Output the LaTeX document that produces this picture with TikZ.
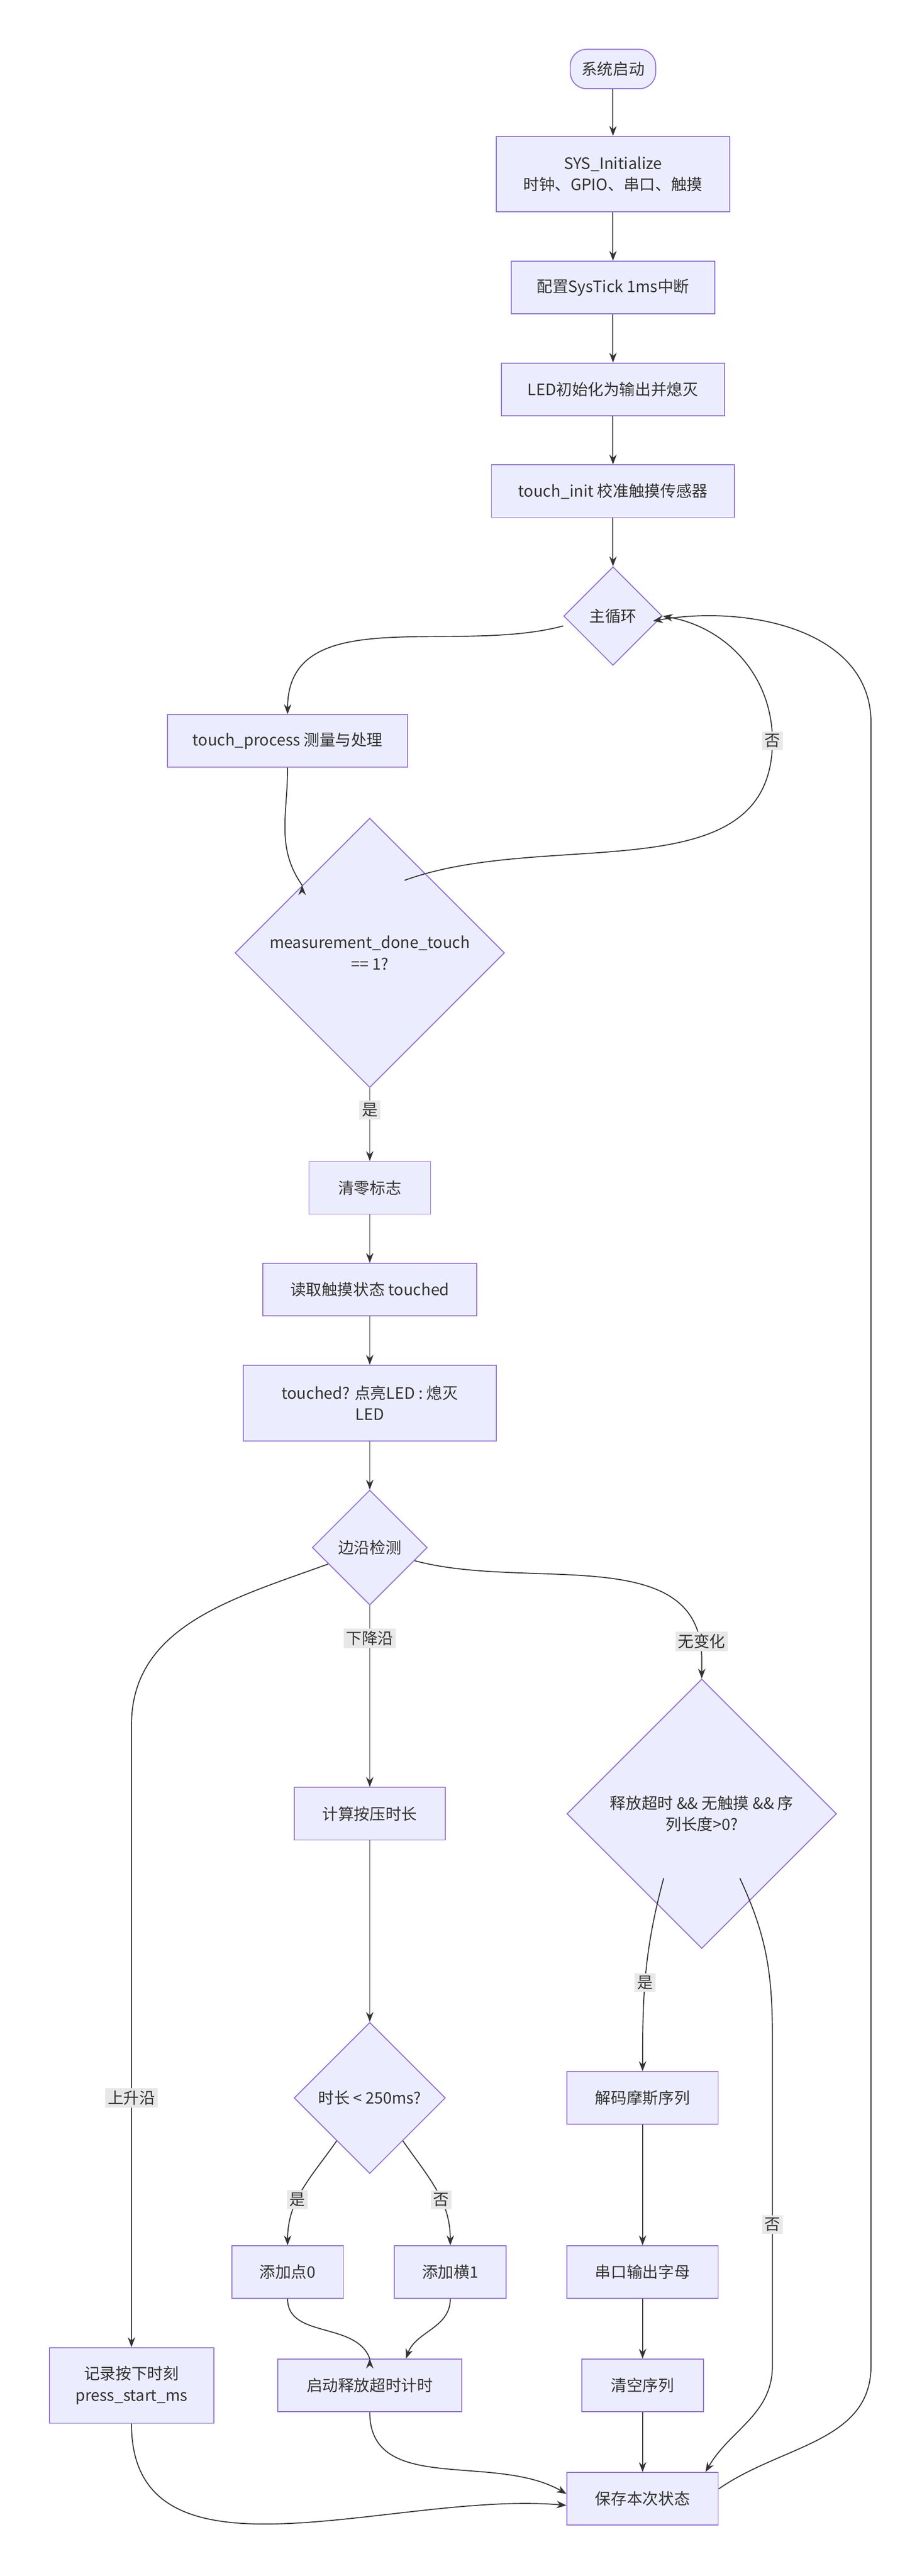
\documentclass[tikz,border=0pt]{standalone}
\usepackage{fontspec}
\setmainfont{Noto Sans CJK SC}
\usetikzlibrary{shapes.geometric,arrows.meta}
\definecolor{nfill}{HTML}{ECECFF}
\definecolor{nline}{HTML}{9370DB}
\definecolor{ink}{HTML}{333333}
\definecolor{lbg}{HTML}{E8E8E8}
\begin{document}
\begin{tikzpicture}[x=1pt,y=-1pt,
  font=\fontsize{9.6}{13}\selectfont, text=ink,
  box/.style={draw=nline,fill=nfill,line width=0.6pt,minimum height=32pt,inner sep=2pt,align=center},
  dia/.style={draw=nline,fill=nfill,line width=0.6pt,diamond,aspect=1,inner sep=0pt,align=center},
  term/.style={draw=nline,fill=nfill,line width=0.6pt,rounded corners=10pt,minimum height=24pt,minimum width=52pt},
  arr/.style={draw=ink,line width=0.6pt,-{Stealth[length=6pt,width=4.5pt]}},
  lab/.style={fill=lbg,inner sep=1.5pt,text=ink}]
\useasboundingbox (0,0) rectangle (561,1568);
\node[term] (start) at (373,42) {系统启动};
\node[box,minimum width=142pt,minimum height=46pt] (sys) at (373,106) {SYS\_Initialize\\时钟、GPIO、串口、触摸};
\node[box,minimum width=124pt] (tick) at (373,175) {配置SysTick 1ms中断};
\node[box,minimum width=136pt] (led) at (373,237) {LED初始化为输出并熄灭};
\node[box,minimum width=148pt] (tinit) at (373,299) {touch\_init 校准触摸传感器};
\node[dia,minimum width=60pt,minimum height=60pt] (loop) at (373,375) {主循环};
\node[box,minimum width=146pt] (tproc) at (175,451) {touch\_process 测量与处理};
\node[dia,minimum width=164pt,minimum height=164pt] (meas) at (225,580) {measurement\_done\_touch\\== 1?};
\node[box,minimum width=74pt] (clear) at (225,723) {清零标志};
\node[box,minimum width=130pt] (read) at (225,785) {读取触摸状态 touched};
\node[box,minimum width=154pt,minimum height=46pt] (tch) at (225,854) {touched? 点亮LED : 熄灭\\LED};
\node[dia,minimum width=70pt,minimum height=70pt] (edge) at (225,942) {边沿检测};
\node[box,minimum width=92pt] (calc) at (225,1104) {计算按压时长};
\node[dia,minimum width=92pt,minimum height=92pt] (dur) at (225,1277) {时长 < 250ms?};
\node[box,minimum width=68pt] (dot) at (175,1383) {添加点0};
\node[box,minimum width=68pt] (dash) at (274,1383) {添加横1};
\node[box,minimum width=112pt] (timer) at (225,1452) {启动释放超时计时};
\node[box,minimum width=100pt,minimum height=46pt] (rec) at (80,1452) {记录按下时刻\\press\_start\_ms};
\node[dia,minimum width=164pt,minimum height=164pt] (rel) at (427,1104) {释放超时 \&\& 无触摸 \&\& 序\\列长度>0?};
\node[box,minimum width=92pt] (dec) at (391,1277) {解码摩斯序列};
\node[box,minimum width=92pt] (ser) at (391,1383) {串口输出字母};
\node[box,minimum width=74pt] (clr) at (391,1452) {清空序列};
\node[box,minimum width=92pt] (save) at (391,1521) {保存本次状态};
\coordinate (ra) at (470,451);
\coordinate (rb) at (80,1050);
\coordinate (rc) at (427,1010);
\coordinate (rd) at (470,1240);
\coordinate (re) at (530,1440);
\coordinate (rf) at (530,440);

\draw[arr] (start) -- (sys);
\draw[arr] (sys) -- (tick);
\draw[arr] (tick) -- (led);
\draw[arr] (led) -- (tinit);
\draw[arr] (tinit) -- (loop);
\draw[arr] (loop.west) ++(0,6) to[out=195,in=90] (tproc.north);
\draw[arr] (tproc.south) to[out=-90,in=125] (meas.north west) ++(0,0);
\draw[arr] (meas.north east) ++(-20,-3) to[out=20,in=-90] (ra) to[out=90,in=-10] (loop.east);
\node[lab] at (ra) {否};
\draw[arr] (meas) -- node[lab,pos=0.3]{是} (clear);
\draw[arr] (clear) -- (read);
\draw[arr] (read) -- (tch);
\draw[arr] (tch) -- (edge);
\draw[arr] (edge.west) ++(10,10) to[out=200,in=90] (rb) -- (rec.north);
\node[lab] at (80,1277) {上升沿};
\draw[arr] (edge) -- node[lab,pos=0.18]{下降沿} (calc);
\draw[arr] (edge.east) ++(-8,8) to[out=-15,in=90] (rc) -- (rel.north);
\node[lab] at (427,999) {无变化};
\draw[arr] (calc) -- (dur);
\draw[arr] (dur.south west) ++(3,3) to[out=-125,in=90] node[lab,pos=0.6]{是} (dot.north);
\draw[arr] (dur.south east) ++(-3,3) to[out=-55,in=90] node[lab,pos=0.6]{否} (dash.north);
\draw[arr] (dot.south) to[out=-90,in=110] (timer.north) ++(0,0);
\draw[arr] (dash.south) to[out=-90,in=70] ([xshift=22pt]timer.north);
\draw[arr] (rel.south west) ++(18,-2) to[out=-105,in=90] node[lab,pos=0.55]{是} (dec.north);
\draw[arr] (rel.south east) ++(-18,-2) to[out=-65,in=90] (rd) -- node[lab,pos=0.57]{否} (470,1440) to[out=-90,in=60] ([xshift=-8pt]save.north east);
\draw[arr] (dec) -- (ser);
\draw[arr] (ser) -- (clr);
\draw[arr] (clr) -- (save);
\draw[arr] (rec.south) to[out=-90,in=175] ([yshift=-4pt]save.west);
\draw[arr] (timer.south) to[out=-90,in=150] ([yshift=3pt]save.west);
\draw[arr] ([yshift=6pt]save.east) to[out=35,in=-90] (re) -- (rf) to[out=90,in=10] ([xshift=-6pt,yshift=-3pt]loop.east);
\end{tikzpicture}
\end{document}
